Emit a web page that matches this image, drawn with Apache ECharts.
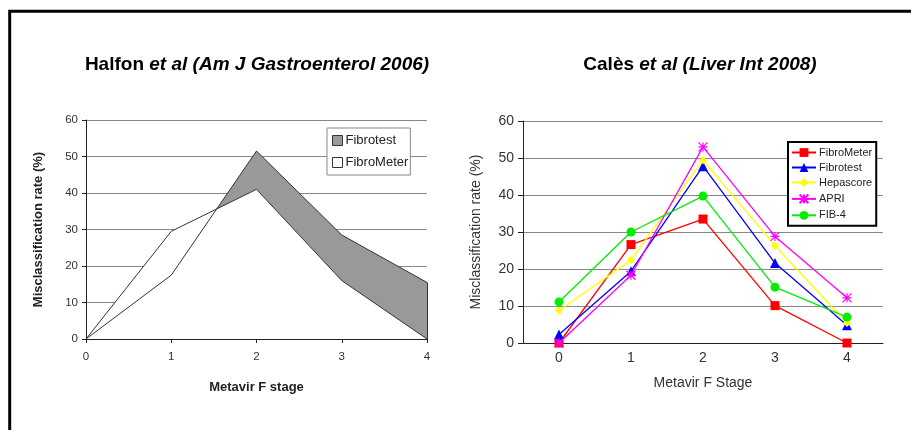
<!DOCTYPE html>
<html><head><meta charset="utf-8">
<script src="https://cdn.jsdelivr.net/npm/echarts@6/dist/echarts.min.js"></script>
<style>html,body{margin:0;padding:0;background:#fff}#c{width:911px;height:430px}</style>
</head><body><div id="c"></div>
<script>
// Left chart (Halfon et al)
const leftStages = ['0', '1', '2', '3', '4'];
const leftFibrotest = [0, 17.5, 51.5, 28.5, 15.5];
const leftFibroMeter = [0, 29.5, 41, 16, 0];

// Right chart (Calès et al)
const rightStages = ['0', '1', '2', '3', '4'];
const rFibroMeter = [0, 26.6, 33.5, 10.1, 0];
const rFibrotest = [2.3, 19.4, 47.8, 21.6, 4.8];
const rHepascore = [8.8, 22.4, 49.4, 26.3, 5.4];
const rAPRI = [0, 18.3, 53, 28.8, 12.2];
const rFIB4 = [11.1, 30, 39.7, 15.1, 7];

const yTicks = [0, 10, 20, 30, 40, 50, 60];

const chart = echarts.init(document.getElementById('c'));
const FONT = 'Liberation Sans, Arial, sans-serif';
const starPath = 'path://M0,0L10,10M10,0L0,10M5,0L5,10M0,5L10,5';
const lastIdx = leftStages.length - 1;

chart.setOption({
  animation: false,
  textStyle: { fontFamily: FONT },
  title: [
    { text: '{a|Halfon }{b|et al (Am J Gastroenterol 2006)}', left: 252, top: 50, textAlign: 'center',
      textStyle: { rich: { a: { fontSize: 19, fontWeight: 'bold', fontFamily: FONT, color: '#000' },
                           b: { fontSize: 19, fontWeight: 'bold', fontStyle: 'italic', fontFamily: FONT, color: '#000' } } } },
    { text: '{a|Calès }{b|et al (Liver Int 2008)}', left: 695, top: 50, textAlign: 'center',
      textStyle: { rich: { a: { fontSize: 19, fontWeight: 'bold', fontFamily: FONT, color: '#000' },
                           b: { fontSize: 19, fontWeight: 'bold', fontStyle: 'italic', fontFamily: FONT, color: '#000' } } } }
  ],
  graphic: [
    { type: 'polyline', shape: { points: [[9.7, 430], [9.7, 11.3], [911, 11.3]] },
      style: { stroke: '#000', lineWidth: 3, fill: null } }
  ],
  legend: [
    { left: 327, top: 128, orient: 'vertical', itemGap: 9, itemWidth: 10, itemHeight: 10,
      backgroundColor: '#fff', borderColor: '#888', borderWidth: 1, padding: [6, 2, 6, 5],
      textStyle: { fontSize: 13, color: '#222', fontFamily: FONT, padding: [0, 0, 0, -2] },
      data: [
        { name: 'Fibrotest', icon: 'rect', itemStyle: { color: '#999', borderColor: '#333', borderWidth: 1 } },
        { name: 'FibroMeter', icon: 'rect', itemStyle: { color: '#fff', borderColor: '#333', borderWidth: 1 } }
      ] },
    { left: 788, top: 142, orient: 'vertical', itemGap: 4, itemWidth: 24, itemHeight: 11,
      backgroundColor: '#fff', borderColor: '#000', borderWidth: 2, padding: [5, 1, 5, 3],
      textStyle: { fontSize: 11, color: '#222', fontFamily: FONT, padding: [0, 0, 0, -2] },
      data: ['FibroMeter ', 'Fibrotest ', 'Hepascore', 'APRI', 'FIB-4'] }
  ],
  grid: [
    { left: 86, top: 120, width: 341, height: 219 },
    { left: 523, top: 121, width: 360, height: 222 }
  ],
  xAxis: [
    { type: 'category', gridIndex: 0, data: leftStages, boundaryGap: false,
      name: 'Metavir F stage', nameLocation: 'middle', nameGap: 42,
      nameTextStyle: { fontSize: 13, fontWeight: 'bold', color: '#222' },
      axisLine: { lineStyle: { color: '#222', width: 1 } },
      axisTick: { length: 4, lineStyle: { color: '#222' } },
      axisLabel: { fontSize: 11.5, color: '#333', margin: 12 } },
    { type: 'category', gridIndex: 1, data: rightStages, boundaryGap: true,
      name: 'Metavir F Stage', nameLocation: 'middle', nameGap: 33,
      nameTextStyle: { fontSize: 14, color: '#333' },
      axisLine: { lineStyle: { color: '#222', width: 1 } },
      axisTick: { length: 5, lineStyle: { color: '#222' } },
      axisLabel: { fontSize: 14, color: '#333', margin: 8 } }
  ],
  yAxis: [
    { type: 'value', gridIndex: 0, min: yTicks[0], max: yTicks[yTicks.length - 1], interval: 10,
      name: 'Misclassification rate (%)', nameLocation: 'middle', nameGap: 41,
      nameTextStyle: { fontSize: 13, fontWeight: 'bold', color: '#222' },
      axisLine: { show: true, lineStyle: { color: '#222' } },
      axisTick: { show: true, length: 4, lineStyle: { color: '#222' } },
      axisLabel: { fontSize: 11.5, color: '#333', margin: 8 },
      splitLine: { lineStyle: { color: '#888', width: 1 } } },
    { type: 'value', gridIndex: 1, min: yTicks[0], max: yTicks[yTicks.length - 1], interval: 10,
      name: 'Misclassification rate (%)', nameLocation: 'middle', nameGap: 40,
      nameTextStyle: { fontSize: 14, color: '#333' },
      axisLine: { show: true, lineStyle: { color: '#222' } },
      axisTick: { show: true, length: 5, lineStyle: { color: '#222' } },
      axisLabel: { fontSize: 14, color: '#333', margin: 9 },
      splitLine: { lineStyle: { color: '#888', width: 1 } } }
  ],
  series: [
    { name: 'Fibrotest', type: 'line', xAxisIndex: 0, yAxisIndex: 0, data: leftFibrotest,
      showSymbol: false, z: 2, lineStyle: { width: 0, opacity: 0 },
      itemStyle: { color: '#999' }, areaStyle: { color: '#999', opacity: 1 } },
    { name: 'FibroMeter', type: 'line', xAxisIndex: 0, yAxisIndex: 0, data: leftFibroMeter,
      showSymbol: false, z: 3, lineStyle: { width: 0, opacity: 0 },
      itemStyle: { color: '#fff' }, areaStyle: { color: '#fff', opacity: 1 } },
    { name: 'Fibrotest line', type: 'line', xAxisIndex: 0, yAxisIndex: 0, data: leftFibrotest,
      showSymbol: false, z: 4, lineStyle: { width: 1, color: '#333' },
      markLine: { silent: true, symbol: 'none', label: { show: false },
        lineStyle: { color: '#333', width: 1, type: 'solid' },
        data: [[{ coord: [leftStages[lastIdx], leftFibroMeter[lastIdx]] },
                { coord: [leftStages[lastIdx], leftFibrotest[lastIdx]] }]] } },
    { name: 'FibroMeter line', type: 'line', xAxisIndex: 0, yAxisIndex: 0, data: leftFibroMeter,
      showSymbol: false, z: 4, lineStyle: { width: 1, color: '#333' } },

    { name: 'FibroMeter ', type: 'line', xAxisIndex: 1, yAxisIndex: 1, data: rFibroMeter,
      symbol: 'rect', symbolSize: 9, color: '#ff0000', lineStyle: { width: 1.3, color: '#ff0000' }, z: 5 },
    { name: 'Fibrotest ', type: 'line', xAxisIndex: 1, yAxisIndex: 1, data: rFibrotest,
      symbol: 'triangle', symbolSize: 10, color: '#0000ff', lineStyle: { width: 1.3, color: '#0000ff' }, z: 6 },
    { name: 'Hepascore', type: 'line', xAxisIndex: 1, yAxisIndex: 1, data: rHepascore,
      symbol: 'diamond', symbolSize: 8, color: '#ffff00', lineStyle: { width: 1.3, color: '#ffff00' }, z: 7 },
    { name: 'APRI', type: 'line', xAxisIndex: 1, yAxisIndex: 1, data: rAPRI,
      symbol: starPath, symbolSize: 9, color: '#ff00ff',
      itemStyle: { color: 'none', borderColor: '#ff00ff', borderWidth: 1.2 },
      lineStyle: { width: 1.3, color: '#ff00ff' }, z: 8 },
    { name: 'FIB-4', type: 'line', xAxisIndex: 1, yAxisIndex: 1, data: rFIB4,
      symbol: 'circle', symbolSize: 9, color: '#00ee00', lineStyle: { width: 1.3, color: '#00ee00' }, z: 9 }
  ]
});
</script></body></html>
